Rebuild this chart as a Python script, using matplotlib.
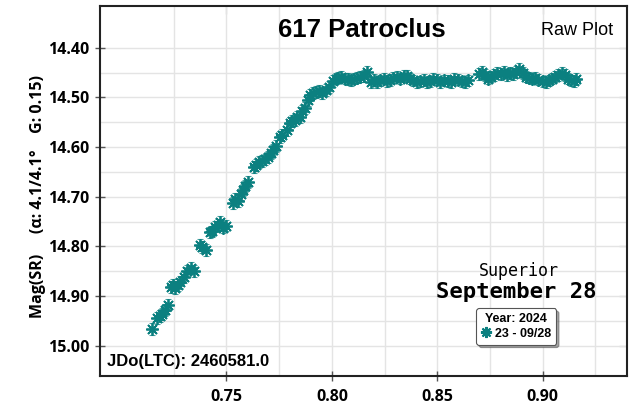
import matplotlib
matplotlib.use("Agg")
import matplotlib.pyplot as plt
from matplotlib.ticker import FixedLocator, FormatStrFormatter
from matplotlib.lines import Line2D

# ---- data ----
jd_frac = [
    0.7146, 0.7170, 0.7183, 0.7195, 0.7210, 0.7223, 0.7235, 0.7245, 0.7255, 0.7268,
    0.7280, 0.7300, 0.7312, 0.7334, 0.7345, 0.7373, 0.7385, 0.7405, 0.7420, 0.7432,
    0.7445, 0.7459, 0.7470, 0.7485, 0.7500, 0.7530, 0.7542, 0.7555, 0.7568, 0.7578,
    0.7590, 0.7600, 0.7630, 0.7642, 0.7655, 0.7670, 0.7682, 0.7695, 0.7710, 0.7722,
    0.7735, 0.7753, 0.7765, 0.7785, 0.7800, 0.7812, 0.7824, 0.7836, 0.7848, 0.7860,
    0.7872, 0.7885, 0.7898, 0.7910, 0.7925, 0.7940, 0.7955, 0.7970, 0.7985,
    0.8005, 0.8018, 0.8030, 0.8045, 0.8060, 0.8075, 0.8090, 0.8105, 0.8120, 0.8135,
    0.8150, 0.8167, 0.8185, 0.8200, 0.8215, 0.8230, 0.8245, 0.8260, 0.8275, 0.8290,
    0.8310, 0.8325, 0.8340, 0.8357, 0.8370, 0.8385, 0.8406, 0.8420, 0.8435, 0.8450,
    0.8465, 0.8480, 0.8500, 0.8515, 0.8530, 0.8550, 0.8565, 0.8580, 0.8600, 0.8615,
    0.8630, 0.8645,
    0.8700, 0.8712, 0.8725, 0.8740, 0.8755, 0.8770, 0.8785, 0.8800, 0.8815, 0.8830,
    0.8845, 0.8860, 0.8875, 0.8890, 0.8905, 0.8920, 0.8935, 0.8950, 0.8965, 0.8980,
    0.9000, 0.9015, 0.9030, 0.9045, 0.9060, 0.9075, 0.9090, 0.9105, 0.9120, 0.9135,
    0.9150, 0.9160,
]
mag = [
    14.966, 14.945, 14.940, 14.936, 14.928, 14.918, 14.882, 14.877, 14.884, 14.878,
    14.872, 14.862, 14.850, 14.844, 14.849, 14.797, 14.802, 14.808, 14.772, 14.770,
    14.760, 14.757, 14.750, 14.762, 14.758, 14.712, 14.705, 14.708, 14.695, 14.686,
    14.678, 14.670, 14.640, 14.636, 14.630, 14.628, 14.625, 14.620, 14.612, 14.605,
    14.598, 14.579, 14.575, 14.566, 14.552, 14.548, 14.546, 14.540, 14.539, 14.528,
    14.522, 14.505, 14.495, 14.492, 14.490, 14.488, 14.492, 14.485, 14.480,
    14.467, 14.462, 14.460, 14.458, 14.462, 14.463, 14.466, 14.462, 14.460, 14.458,
    14.457, 14.448, 14.470, 14.465, 14.470, 14.466, 14.462, 14.467, 14.465, 14.460,
    14.458, 14.462, 14.456, 14.457, 14.462, 14.466, 14.470, 14.468, 14.465, 14.470,
    14.468, 14.462, 14.464, 14.470, 14.466, 14.467, 14.470, 14.462, 14.464, 14.468,
    14.470, 14.466,
    14.452, 14.448, 14.455, 14.462, 14.458, 14.455, 14.450, 14.452, 14.448, 14.455,
    14.450, 14.452, 14.448, 14.443, 14.450, 14.458, 14.460, 14.462, 14.460, 14.464,
    14.468, 14.470, 14.466, 14.462, 14.458, 14.455, 14.450, 14.455, 14.462, 14.466,
    14.468, 14.462,
]
mag_err = [0.012] * len(mag)

x_major = [0.75, 0.80, 0.85, 0.90]
x_grid_minor = [0.725, 0.775, 0.825, 0.875, 0.925]
y_major = [14.40, 14.50, 14.60, 14.70, 14.80, 14.90, 15.00]
y_grid_minor = [14.45, 14.55, 14.65, 14.75, 14.85, 14.95]

title = "617 Patroclus"
ylabel = "Mag(SR)     (\u03b1: 4.1/4.1\u00b0    G: 0.15)"
series_label = "23 - 09/28"
legend_title = "Year: 2024"
teal = "#0b8080"
star = (8, 2, 0)

fig = plt.figure(figsize=(6.3, 4.07), dpi=100)
ax = fig.add_axes([100/630, 31/407, 527/630, 370/407])

ax.errorbar(jd_frac, mag, yerr=mag_err, fmt="none", ecolor=teal, elinewidth=0.8,
            capsize=2.5, capthick=0.8, alpha=0.75, zorder=3)
ax.plot(jd_frac, mag, linestyle="none", marker=star, markersize=9,
        markeredgewidth=1.3, color=teal, zorder=4)

ax.set_xlim(0.69, 0.940)
ax.set_ylim(15.061, 14.316)

ax.xaxis.set_major_locator(FixedLocator(x_major))
ax.xaxis.set_minor_locator(FixedLocator(x_grid_minor))
ax.yaxis.set_major_locator(FixedLocator(y_major))
ax.yaxis.set_minor_locator(FixedLocator(y_grid_minor))
ax.xaxis.set_major_formatter(FormatStrFormatter("%.2f"))
ax.yaxis.set_major_formatter(FormatStrFormatter("%.2f"))
ax.grid(True, which="both", color="#e4e4e4", linewidth=1.0, zorder=0)
ax.set_axisbelow(True)
ax.tick_params(which="minor", length=0)
ax.tick_params(which="major", direction="inout", length=7, width=1, color="#555555",
               labelsize=11.5)
ax.tick_params(axis="x", which="major", pad=6)
ax.tick_params(axis="y", which="major", pad=4)
for lab in ax.get_xticklabels() + ax.get_yticklabels():
    lab.set_fontweight("bold")
    lab.set_fontfamily("Open Sans")

for sp in ax.spines.values():
    sp.set_linewidth(1.5)
    sp.set_color("#222222")

# inward ticks on top and right
secx = ax.secondary_xaxis("top")
secx.set_xticks(x_major)
secx.tick_params(direction="in", length=6, color="#555555", labeltop=False)
secx.spines["top"].set_visible(False)
secy = ax.secondary_yaxis("right")
secy.set_yticks(y_major)
secy.tick_params(direction="in", length=6, color="#555555", labelright=False)
secy.spines["right"].set_visible(False)

ax.set_ylabel(ylabel, fontsize=11.5, fontweight="bold", family="Open Sans")
ax.yaxis.set_label_coords(-0.103, 0.485)

ax.text(0.497, 0.935, title, transform=ax.transAxes, ha="center", va="center",
        fontsize=18.5, fontweight="bold", family="Liberation Sans")
ax.text(0.973, 0.933, "Raw Plot", transform=ax.transAxes, ha="right", va="center",
        fontsize=13, family="Liberation Sans")
ax.text(0.013, 0.04, "JDo(LTC): 2460581.0", transform=ax.transAxes, ha="left",
        va="center", fontsize=12, fontweight="bold", family="Liberation Sans")
ax.text(0.795, 0.285, "Superior", transform=ax.transAxes, ha="center", va="center",
        fontsize=12, family="DejaVu Sans Mono")
ax.text(0.79, 0.228, "September 28", transform=ax.transAxes, ha="center", va="center",
        fontsize=16, fontweight="bold", family="DejaVu Sans Mono")

handle = Line2D([], [], linestyle="none", marker=star, markersize=8,
                markeredgewidth=1.5, color=teal)
leg = ax.legend([handle], [series_label], loc="upper left",
                bbox_to_anchor=(0.714, 0.183), title=legend_title,
                frameon=True, fancybox=True, shadow=True, handletextpad=0.3,
                borderpad=0.4, handlelength=0.8, labelspacing=0.2,
                prop={"weight": "bold", "size": 9, "family": "Liberation Sans"},
                title_fontproperties={"weight": "bold", "size": 9,
                                      "family": "Liberation Sans"},
                borderaxespad=0)
leg.get_frame().set_edgecolor("#555555")
leg.get_frame().set_linewidth(0.8)

fig.savefig("out.png", dpi=100)
